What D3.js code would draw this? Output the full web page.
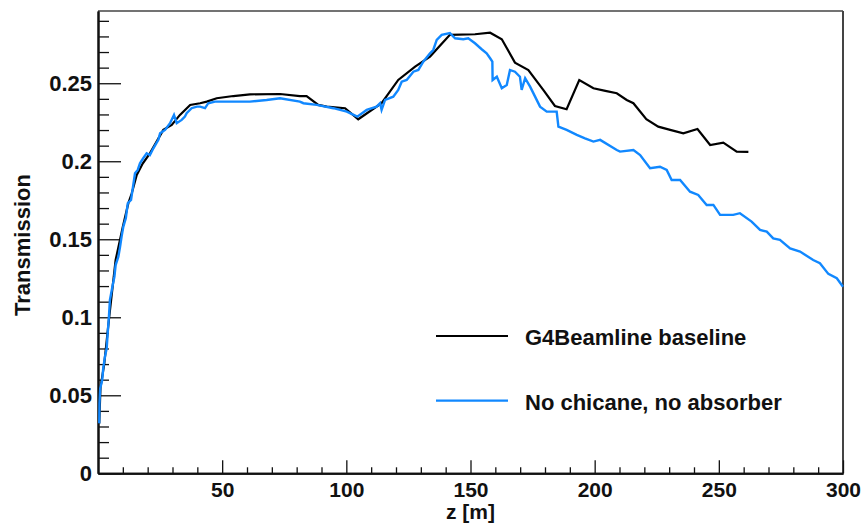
<!DOCTYPE html>
<html>
<head>
<meta charset="utf-8">
<script src="https://cdn.jsdelivr.net/npm/d3@7"></script>
<style>
  body { margin: 0; background: #fff; }
  text { font-family: "Liberation Sans", Arial, Helvetica, sans-serif; font-weight: bold; fill: #111; }
</style>
</head>
<body>
<svg id="chart" width="866" height="523"></svg>
<script>
// G4Beamline baseline: transmission vs z [m]
const baselineZ = [0.5, 1.0, 2.5, 4.5, 7.1, 10.0, 12.2, 13.6, 15.6, 18.0, 20.9, 26.3, 29.7, 33.0, 37.1, 41.1, 43.8, 47.8, 54.5, 61.2, 73.3, 81.3, 84.0, 88.7, 92.1, 99.5, 104.8, 114.2, 120.9, 127.7, 133.7, 141.7, 151.8, 157.9, 162.6, 167.9, 173.3, 179.3, 184.0, 188.7, 193.8, 199.5, 204.3, 208.9, 212.9, 215.6, 220.8, 225.6, 230.4, 235.7, 241.4, 246.5, 251.8, 257.2, 261.9];
const baselineT = [0.032, 0.055, 0.070, 0.100, 0.1367, 0.158, 0.173, 0.1795, 0.1912, 0.1985, 0.2051, 0.2201, 0.2233, 0.2297, 0.2361, 0.2372, 0.2382, 0.2404, 0.2418, 0.2429, 0.2431, 0.2417, 0.2417, 0.2361, 0.2350, 0.2340, 0.2269, 0.2372, 0.2521, 0.2606, 0.2671, 0.2810, 0.2814, 0.2824, 0.2782, 0.2632, 0.2585, 0.2457, 0.2354, 0.2333, 0.2521, 0.2468, 0.2451, 0.2436, 0.2393, 0.2372, 0.2269, 0.2222, 0.2201, 0.2179, 0.2207, 0.2104, 0.2119, 0.2062, 0.2060];

// No chicane, no absorber: transmission vs z [m]
const openZ = [0.5, 0.6, 0.9, 1.7, 2.1, 2.8, 3.5, 3.9, 4.4, 4.8, 5.8, 6.6, 7.1, 8.2, 8.9, 9.5, 10.2, 11.2, 12.0, 13.3, 13.8, 14.9, 16.0, 16.9, 18.2, 19.6, 20.9, 22.3, 24.3, 25.0, 27.0, 29.0, 30.6, 31.7, 33.7, 35.0, 35.7, 37.7, 39.8, 41.1, 43.1, 44.4, 47.1, 54.5, 61.2, 67.9, 73.3, 81.3, 82.7, 88.1, 94.8, 100.2, 104.4, 108.2, 112.2, 113.6, 114.2, 115.6, 118.9, 120.9, 122.3, 124.3, 127.0, 129.0, 131.0, 133.7, 135.0, 136.4, 138.4, 141.7, 143.8, 147.1, 149.1, 151.8, 154.5, 156.5, 157.9, 158.8, 158.9, 160.6, 162.6, 164.6, 165.9, 167.9, 169.9, 170.6, 172.0, 174.0, 176.0, 178.0, 180.7, 184.7, 185.4, 188.7, 192.8, 196.1, 199.5, 202.2, 208.9, 210.2, 215.6, 218.3, 222.3, 226.3, 229.0, 231.0, 234.4, 238.4, 241.7, 245.1, 247.8, 250.5, 255.8, 258.5, 263.2, 266.6, 269.3, 271.9, 274.6, 278.7, 282.7, 288.0, 290.7, 294.1, 297.5, 300.0];
const openT = [0.032, 0.045, 0.0545, 0.0598, 0.0673, 0.0747, 0.0801, 0.0897, 0.1004, 0.1111, 0.1196, 0.1260, 0.1335, 0.1388, 0.1453, 0.1517, 0.1581, 0.1635, 0.1731, 0.1752, 0.1805, 0.1923, 0.1944, 0.1987, 0.2019, 0.2051, 0.2040, 0.2083, 0.2137, 0.2179, 0.2201, 0.2244, 0.2297, 0.2244, 0.2265, 0.2286, 0.2308, 0.2340, 0.2350, 0.2350, 0.2340, 0.2372, 0.2382, 0.2382, 0.2382, 0.2393, 0.2404, 0.2382, 0.2372, 0.2361, 0.2340, 0.2318, 0.2286, 0.2329, 0.2350, 0.2372, 0.2329, 0.2393, 0.2414, 0.2457, 0.2510, 0.2521, 0.2574, 0.2585, 0.2638, 0.2692, 0.2713, 0.2778, 0.2810, 0.2821, 0.2788, 0.2782, 0.2788, 0.2756, 0.2718, 0.2692, 0.2660, 0.2638, 0.2521, 0.2542, 0.2468, 0.2489, 0.2585, 0.2574, 0.2542, 0.2457, 0.2532, 0.2478, 0.2414, 0.2350, 0.2318, 0.2318, 0.2222, 0.2201, 0.2169, 0.2147, 0.2126, 0.2137, 0.2072, 0.2062, 0.2072, 0.2040, 0.1955, 0.1965, 0.1944, 0.1880, 0.1880, 0.1805, 0.1784, 0.1720, 0.1720, 0.1656, 0.1656, 0.1667, 0.1613, 0.1560, 0.1549, 0.1506, 0.1496, 0.1442, 0.1421, 0.1367, 0.1346, 0.1278, 0.1250, 0.1196];

const xTickValues = [50, 100, 150, 200, 250, 300];
const xTickLabels = ["50", "100", "150", "200", "250", "300"];
const yTickValues = [0, 0.05, 0.1, 0.15, 0.2, 0.25];
const yTickLabels = ["0", "0.05", "0.1", "0.15", "0.2", "0.25"];
const seriesNames = ["G4Beamline baseline", "No chicane, no absorber"];
const seriesColors = ["#000000", "#1188ff"];

const svg = d3.select("#chart");
const x = d3.scaleLinear().domain([0, 300]).range([98, 843]);
const y = d3.scaleLinear().domain([0, 0.2963]).range([473.3, 11]);

// frame (top and right sides)
svg.append("line").attr("x1", 98).attr("x2", 843).attr("y1", 11).attr("y2", 11)
  .attr("stroke", "#444").attr("stroke-width", 1.5);
svg.append("line").attr("x1", 843).attr("x2", 843).attr("y1", 11).attr("y2", 473.3)
  .attr("stroke", "#444").attr("stroke-width", 2);

// minor ticks
const xMinor = d3.range(10, 300, 10).filter(v => v % 50 !== 0);
const yMinor = d3.range(1, 30).map(v => v / 100).filter(v => Math.round(v * 100) % 5 !== 0);

const gxMinor = svg.append("g").attr("transform", "translate(0,473.3)")
  .call(d3.axisBottom(x).tickValues(xMinor).tickSize(-6).tickFormat("").tickSizeOuter(0));
const gyMinor = svg.append("g").attr("transform", "translate(98,0)")
  .call(d3.axisLeft(y).tickValues(yMinor).tickSize(-11).tickFormat("").tickSizeOuter(0));

// major ticks and labels
const gx = svg.append("g").attr("transform", "translate(0,473.3)")
  .call(d3.axisBottom(x).tickValues(xTickValues).tickSize(-13).tickSizeOuter(0).tickPadding(9)
    .tickFormat((d, i) => xTickLabels[i]));
const gy = svg.append("g").attr("transform", "translate(98,0)")
  .call(d3.axisLeft(y).tickValues(yTickValues).tickSize(-23).tickSizeOuter(0).tickPadding(6)
    .tickFormat((d, i) => yTickLabels[i]));

[gxMinor, gyMinor, gx, gy].forEach(g => {
  g.selectAll("line").attr("stroke", "#111").attr("stroke-width", 1.3);
  g.select(".domain").attr("stroke", "#111").attr("stroke-width", 2);
  g.selectAll("text").style("font-weight", "bold")
    .style("font-family", '"Liberation Sans", Arial, sans-serif').attr("fill", "#111");
});
gy.selectAll("text").style("font-size", "22px");
gx.selectAll("text").style("font-size", "21px");

// axis titles
svg.append("text").attr("x", 470.5).attr("y", 519).attr("text-anchor", "middle")
  .style("font-size", "21px").text("z [m]");
svg.append("text").attr("transform", "translate(30,245) rotate(-90)").attr("text-anchor", "middle")
  .style("font-size", "22px").text("Transmission");

// curves
const line = d3.line().x(d => x(d[0])).y(d => y(d[1]));
const series = [
  baselineZ.map((z, i) => [z, baselineT[i]]),
  openZ.map((z, i) => [z, openT[i]])
];
series.forEach((pts, i) => {
  svg.append("path").datum(pts).attr("d", line)
    .attr("fill", "none").attr("stroke", seriesColors[i])
    .attr("stroke-width", i === 0 ? 2.2 : 2.4).attr("stroke-linejoin", "miter");
});

// legend
const legendY = [336, 400.7];
seriesNames.forEach((name, i) => {
  svg.append("line").attr("x1", 436).attr("x2", 508).attr("y1", legendY[i]).attr("y2", legendY[i])
    .attr("stroke", seriesColors[i]).attr("stroke-width", 2.2);
  svg.append("text").attr("x", 525).attr("y", legendY[i] + 9)
    .style("font-size", "22px").text(name);
});
</script>
</body>
</html>
